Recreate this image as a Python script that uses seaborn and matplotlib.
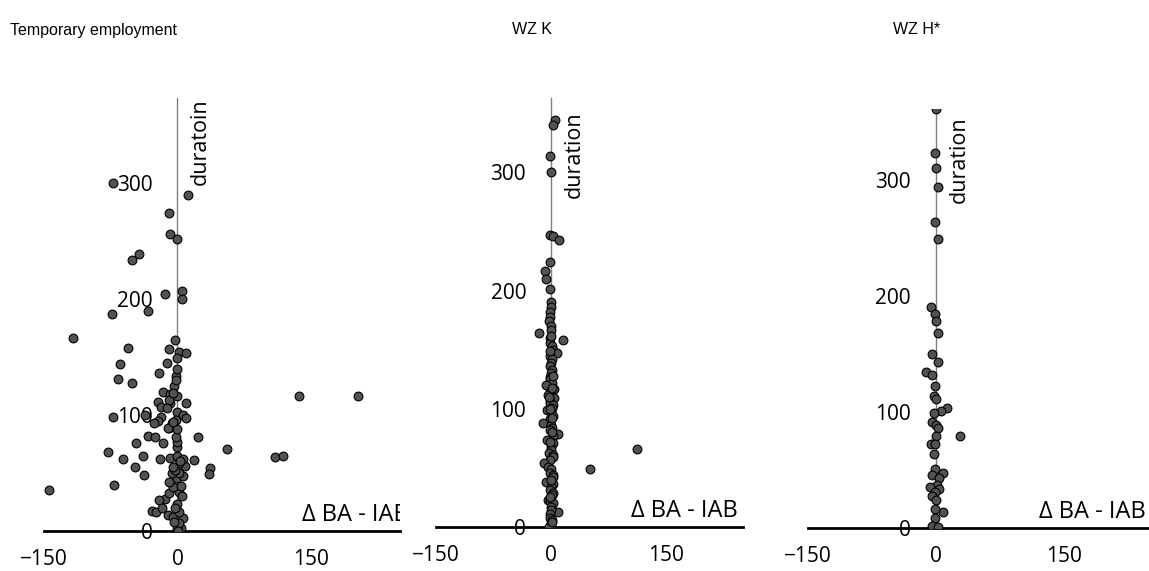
import matplotlib
matplotlib.use("Agg")
import matplotlib.pyplot as plt
import seaborn as sns
import pandas as pd

# Temporary employment
p1_x = [-72, 12, -9, -8, 0, -43, -51, 5, 5, -14, -74, -33, -117, -3, -56, -9, 2, 10,
        -1, -65, -12, -21, -67, -51, -2, -4, -16, -8, 0, 10, -22, -8, -18, -1, -72,
        -37, -18, -22, -26, -2, -6, 6, 10, -10, -4, -9, -5, -12, 136, 203, 56, 110,
        118, 36, 35, 23, 18, -144, -71, -78, -61, -48, -38, -39, -47, -33, -25, -16,
        -20, -14, -21, -29, -24, -17, -11, -5, 6, 2, 0, 4, -1, 2, -4, -9, 2, -5, 4,
        -10, -1, 6, 2, -6, -3, 8, 2, -5, -8, 0, 6, 0, -1, -2, 0, -11, -5, -2, -1, 3,
        5, -3, 1]
p1_y = [300, 290, 274, 256, 252, 239, 234, 207, 200, 204, 187, 190, 166, 165, 158, 157,
        154, 153, 149, 144, 145, 136, 131, 128, 134, 125, 120, 118, 116, 110, 111, 110,
        107, 103, 98, 100, 98, 95, 93, 96, 93, 100, 97, 89, 90, 113, 119, 106, 116, 116,
        71, 64, 65, 54, 49, 81, 61, 35, 40, 68, 62, 55, 48, 65, 76, 82, 81, 76, 62, 28,
        27, 17, 16, 20, 14, 12, 11, 16, 23, 3, 3, 7, 8, 33, 34, 38, 39, 42, 46, 47, 50,
        50, 53, 56, 59, 55, 63, 65, 62, 72, 77, 81, 88, 89, 94, 130, 140, 60, 30, 20, 0]

# WZ K
p2_x = [5, 3, -1, 0, -1, 3, 10, -1, -8, -7, -1, 0, 0, -1, -1, -3, 0, 0, -16, 16, -2, -2,
        1, 3, 8, -1, 1, 0, -1, 1, 0, -2, -2, 1, -7, 4, -1, -4, 4, -1, -2, 3, 1, -5, 0,
        2, -1, -10, 0, 1, -2, 9, 3, -5, 2, 0, 0, -3, 2, 2, -1, -9, -4, 0, -1, 51, 112,
        2, 2, -7, 3, 0, -2, 2, 1, -4, -1, 2, 0, 9, 0, -1, -2, 1, 0, 0, -3, -1, 1, -3,
        2, -1, 0, 1, -2, 1, 0, -2, 1]
p2_y = [344, 340, 314, 300, 247, 246, 243, 224, 217, 210, 201, 190, 186, 182, 178, 174,
        170, 167, 164, 158, 160, 156, 153, 150, 147, 145, 142, 139, 136, 133, 130, 127,
        125, 122, 120, 117, 114, 112, 109, 107, 105, 103, 101, 99, 97, 94, 91, 88, 86,
        84, 82, 79, 77, 74, 71, 68, 65, 63, 61, 59, 57, 54, 51, 49, 46, 49, 66, 44, 42,
        38, 36, 34, 31, 29, 27, 23, 22, 20, 17, 13, 14, 11, 8, 6, 3, 1, 0, 72, 92, 110,
        128, 149, 162, 118, 100, 80, 40, 25, 4]

# WZ H*
p3_x = [0, -1, 0, 2, -1, 2, -6, -1, 0, 2, -5, 2, -12, -4, -1, -2, 0, 13, 6, -2, -4, 0,
        2, 28, 0, -6, -1, -2, -1, 8, -4, 4, 1, -7, 4, -1, -5, 0, 8, -1, -1, -4, 2]
p3_y = [361, 323, 310, 294, 264, 249, 190, 184, 178, 168, 150, 143, 134, 132, 122, 114,
        111, 103, 101, 99, 91, 89, 86, 79, 79, 72, 72, 64, 51, 47, 46, 43, 37, 35, 34,
        31, 28, 24, 14, 16, 9, 2, 1]

titles = ["Temporary employment", "WZ K", "WZ H*"]
ylabels = ["duratoin", "duration", "duration"]
xlabel = "\u0394 BA - IAB"
xticks = [-150, 0, 150]
yticks = [0, 100, 200, 300]
ymax = [373, 363, 361]

panels = [(p1_x, p1_y), (p2_x, p2_y), (p3_x, p3_y)]
# axes boxes in figure fraction (left, bottom, width, height)
boxes = [(0.0383, 0.070, 0.3098, 0.758),
         (0.3795, 0.0771, 0.2672, 0.7513),
         (0.7032, 0.0753, 0.2968, 0.7338)]
title_x = [10, 512, 893]
ylab_off = [0, -10, -5]
xlab_off = [6, -4, -2]

sns.set_style("white")
plt.rcParams["font.family"] = ["Open Sans", "DejaVu Sans"]
plt.rcParams["text.color"] = "black"
plt.rcParams["xtick.labelcolor"] = "black"
plt.rcParams["ytick.labelcolor"] = "black"

fig = plt.figure(figsize=(11.49, 5.71), dpi=100)

for i, (xs, ys) in enumerate(panels):
    ax = fig.add_axes(boxes[i])
    df = pd.DataFrame({"x": xs, "y": ys})
    sns.scatterplot(data=df, x="x", y="y", ax=ax, color="#525252",
                    edgecolor="black", linewidth=0.8, s=40, zorder=3)
    ax.set_xlim(-150, 250)
    ax.set_ylim(0, ymax[i])
    ax.set_xticks(xticks)
    ax.set_yticks(yticks)
    ax.set_xlabel("")
    ax.set_ylabel("")
    ax.spines["left"].set_position(("data", 0))
    ax.spines["bottom"].set_position(("data", 0))
    ax.spines["top"].set_visible(False)
    ax.spines["right"].set_visible(False)
    ax.spines["bottom"].set_linewidth(2)
    ax.spines["bottom"].set_color("black")
    ax.spines["left"].set_linewidth(1)
    ax.spines["left"].set_color("#7f7f7f")
    ax.tick_params(axis="x", direction="out", length=5, width=2, color="black",
                   labelsize=15, pad=8, labelcolor="black")
    ax.tick_params(axis="y", direction="out", length=6, width=1, color="#7f7f7f",
                   labelsize=15, pad=12, labelcolor="black")
    ax.patch.set_alpha(0)

    ax.annotate(ylabels[i], xy=(0, 1), xycoords=("data", "axes fraction"),
                xytext=(9, ylab_off[i]), textcoords="offset points",
                rotation=90, ha="left", va="top", fontsize=15.5, color="black")
    ax.annotate(xlabel, xy=(1, 0), xycoords=("axes fraction", "data"),
                xytext=(xlab_off[i], 3), textcoords="offset points",
                ha="right", va="bottom", fontsize=17, color="black",
                annotation_clip=False, clip_on=True)

    fig.text(title_x[i] / 1149, 1 - 30 / 571, titles[i], fontsize=11.5, color="black",
             family=["Liberation Sans", "DejaVu Sans"], va="center", ha="left")

fig.savefig("out.png", dpi=100)
